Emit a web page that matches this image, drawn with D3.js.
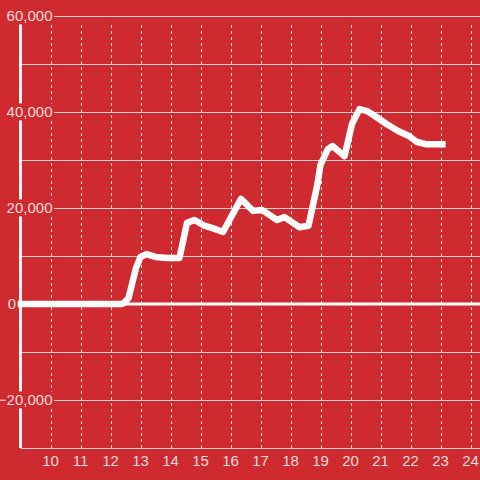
<!DOCTYPE html>
<html><head><meta charset="utf-8">
<script src="https://cdn.jsdelivr.net/npm/d3@7"></script>
<style>html,body{margin:0;padding:0;background:#cf2a2f;}svg{display:block;}</style>
</head><body><svg id="c" width="480" height="480"></svg>
<script>
const times = [8.9, 12.4, 12.6, 12.85, 13.0, 13.2, 13.5, 13.9, 14.3, 14.55, 14.8, 15.1, 15.4, 15.75, 16.35, 16.75, 17.05, 17.55, 17.8, 18.3, 18.6, 18.9, 19.0, 19.25, 19.4, 19.8, 20.05, 20.3, 20.55, 20.85, 21.2, 21.6, 21.95, 22.2, 22.5, 23.17];
const values = [0, 0, 1200, 7500, 9800, 10400, 9800, 9600, 9600, 16900, 17500, 16400, 15800, 15000, 21900, 19400, 19600, 17500, 18100, 16000, 16300, 25000, 29000, 32300, 32900, 30800, 37500, 40600, 40200, 39000, 37500, 36000, 35000, 33800, 33300, 33300];
const yTicks = [-20000, 0, 20000, 40000, 60000];
const yGrid = [-30000, -20000, -10000, 0, 10000, 20000, 30000, 40000, 50000, 60000];
const xTicks = [10, 11, 12, 13, 14, 15, 16, 17, 18, 19, 20, 21, 22, 23, 24];

const bg = "#cf2a2f";
const svg = d3.select("#c");
const x = d3.scaleLinear().domain([9, 25]).range([20.5, 500.5]);
const y = d3.scaleLinear().domain([-30000, 60000]).range([448, 16]);

svg.append("rect").attr("width", 480).attr("height", 480).attr("fill", bg);

// vertical dashed grid
svg.append("g").selectAll("line").data(xTicks).join("line")
  .attr("x1", d => Math.round(x(d)) + 0.5).attr("x2", d => Math.round(x(d)) + 0.5)
  .attr("y1", y(-30000)).attr("y2", y(60000) + 6)
  .attr("stroke", "#e2e2e2").attr("stroke-width", 1).attr("stroke-dasharray", "3,3");

// horizontal grid
svg.append("g").selectAll("line").data(yGrid).join("line")
  .attr("x1", x(9)).attr("x2", 480)
  .attr("y1", d => Math.round(y(d)) + 0.5).attr("y2", d => Math.round(y(d)) + 0.5)
  .attr("stroke", "#cfcfcf").attr("stroke-width", 1);

// zero line
svg.append("line").attr("x1", x(9)).attr("x2", 480)
  .attr("y1", y(0)).attr("y2", y(0))
  .attr("stroke", "#ffffff").attr("stroke-width", 3);

// y axis line
svg.append("line").attr("x1", x(9)).attr("x2", x(9))
  .attr("y1", y(60000)).attr("y2", y(-30000))
  .attr("stroke", "#f4f4f4").attr("stroke-width", 3);

// data line
const pts = times.map((t, i) => [t, values[i]]);
svg.append("path").datum(pts)
  .attr("d", d3.line().x(d => x(d[0])).y(d => y(d[1])))
  .attr("fill", "none").attr("stroke", "#ffffff").attr("stroke-width", 6.5)
  .attr("stroke-linejoin", "round").attr("stroke-linecap", "butt");

// x labels
svg.append("g").selectAll("text").data(xTicks).join("text")
  .attr("x", d => x(d)).attr("y", 466)
  .attr("text-anchor", "middle")
  .attr("font-family", "Liberation Sans, Arial, sans-serif").attr("font-size", 15)
  .attr("fill", "#f5dcdc").text(d => d);

// y labels with background
const fmt = d3.format(",");
const yl = svg.append("g").selectAll("g").data(yTicks).join("g");
yl.each(function(d) {
  const g = d3.select(this);
  const t = g.append("text")
    .attr("x", d === 0 ? x(9) - 4.5 : 52.5)
    .attr("y", y(d)).attr("dy", "0.36em")
    .attr("text-anchor", "end")
    .attr("font-family", "Liberation Sans, Arial, sans-serif").attr("font-size", 15)
    .attr("fill", "#f5dcdc").text(fmt(d));
  const b = t.node().getBBox();
  g.insert("rect", "text").attr("x", b.x - 1.5).attr("y", b.y).attr("width", b.width + 3).attr("height", b.height)
    .attr("fill", bg);
});
</script></body></html>
